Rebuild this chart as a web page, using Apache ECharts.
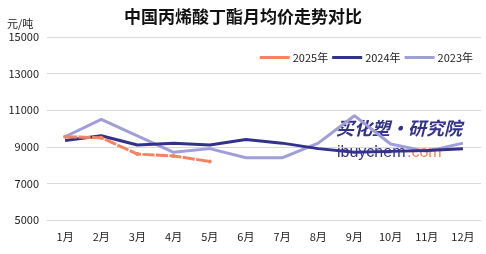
<!DOCTYPE html>
<html><head><meta charset="utf-8">
<script src="https://cdn.jsdelivr.net/npm/echarts@6/dist/echarts.min.js"></script>
<style>html,body{margin:0;padding:0;background:#fff}#c{width:486px;height:254px}</style>
</head><body><div id="c"></div>
<script>
const categories = ['1月','2月','3月','4月','5月','6月','7月','8月','9月','10月','11月','12月'];
const s2025 = [9550, 9500, 8600, 8500, 8200];
const s2024 = [9350, 9600, 9100, 9200, 9100, 9400, 9200, 8900, 8700, 8750, 8800, 8900];
const s2023 = [9550, 10500, 9600, 8700, 8900, 8400, 8400, 9200, 10700, 9150, 8750, 9200];
const yTicks = [5000, 7000, 9000, 11000, 13000, 15000];
const ff = '"Microsoft YaHei","Noto Sans CJK SC",sans-serif';
const chart = echarts.init(document.getElementById('c'));
chart.setOption({
  animation:false,
  title:{text:'中国丙烯酸丁酯月均价走势对比', left:'center', top:3,
    textStyle:{fontFamily:'"Noto Sans CJK SC",serif', fontWeight:'bold', fontSize:17, color:'#111'}},
  legend:{top:47, right:8, itemWidth:30, itemHeight:3, itemGap:4,
    textStyle:{fontFamily:ff, fontSize:11, color:'#222', padding:[0,0,0,-2]},
    data:[{name:'2025年', icon:'rect'},{name:'2024年', icon:'rect'},{name:'2023年', icon:'rect'}]},
  grid:{left:47, right:5, top:37, bottom:34},
  xAxis:{type:'category', data:categories, boundaryGap:true,
    axisLine:{show:false}, axisTick:{show:false},
    axisLabel:{fontFamily:ff, fontSize:11, color:'#222', margin:11}},
  yAxis:{type:'value', min:yTicks[0], max:yTicks[yTicks.length-1], interval:2000,
    name:'元/吨', nameLocation:'end', nameGap:8,
    nameTextStyle:{fontFamily:ff, fontSize:11, color:'#222', align:'left', padding:[0,0,0,-40]},
    axisLabel:{fontFamily:ff, fontSize:11, color:'#222', margin:8, formatter:function(v){return String(v);}},
    splitLine:{lineStyle:{color:'#d9d9d9', width:1}}},
  graphic:[
    {type:'text', left:336, top:119, style:{text:'买化塑·研究院', fontFamily:'"Noto Sans CJK SC"', fontWeight:'bold', fontStyle:'italic', fontSize:18, fill:'#34338a'}},
    {type:'text', left:337, top:145, style:{text:'ibuychem', fontFamily:'Arial,"Liberation Sans"', fontSize:16, fill:'#34338a'}},
    {type:'text', left:407, top:145, style:{text:'.com', fontFamily:'Arial,"Liberation Sans"', fontSize:16, fill:'#f4845f'}}
  ],
  series:[
    {name:'2025年', type:'line', data:s2025, symbol:'circle', symbolSize:4, showSymbol:true,
      itemStyle:{color:'#f4845f'}, lineStyle:{color:'#f4845f', width:3, type:[12,1.5]}, z:3},
    {name:'2024年', type:'line', data:s2024, symbol:'none',
      itemStyle:{color:'#34318a'}, lineStyle:{color:'#34318a', width:3}, z:2},
    {name:'2023年', type:'line', data:s2023, symbol:'none',
      itemStyle:{color:'#a09ed8'}, lineStyle:{color:'#a09ed8', width:3}, z:1}
  ]
});
</script></body></html>
